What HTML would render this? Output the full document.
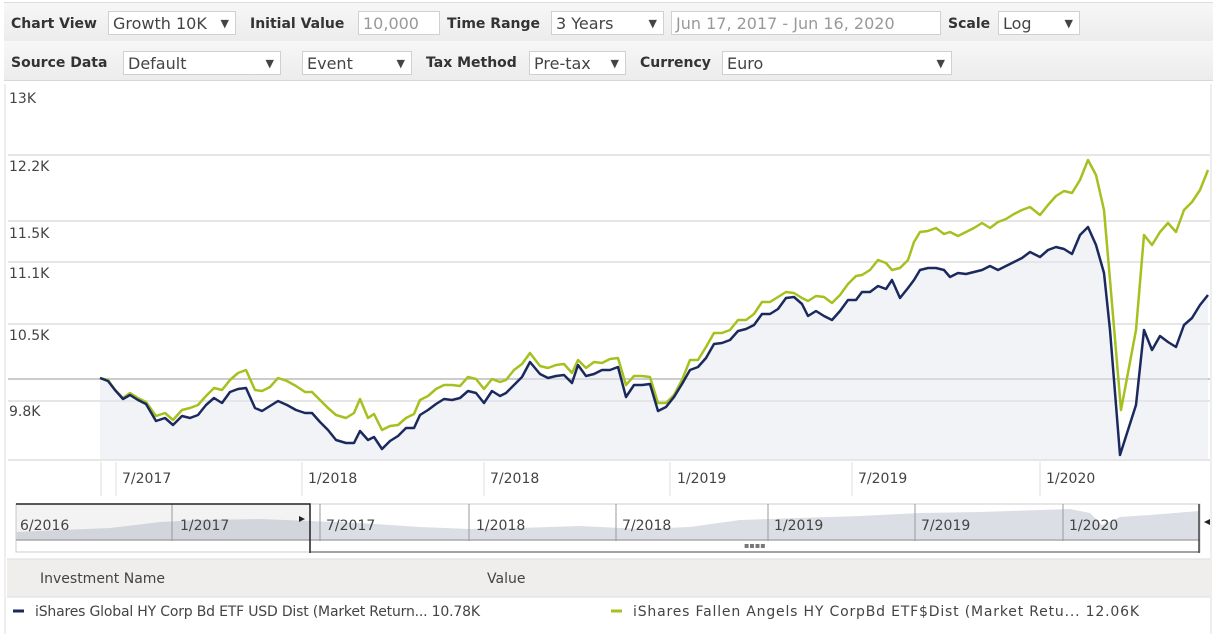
<!DOCTYPE html>
<html><head><meta charset="utf-8"><style>
body{margin:0;width:1213px;height:634px;overflow:hidden;background:#fff;font-family:"DejaVu Sans","Liberation Sans",sans-serif;color:#333;position:relative}
.bar{position:absolute;left:4px;width:1209px;background:linear-gradient(#f7f7f7,#ececec);border-bottom:1px solid #d8d8d8}
.l{position:absolute;font-weight:bold;font-size:14px;color:#333}
.b{position:absolute;height:24px;border:1px solid #d0d0d0;background:#fff;font-size:16px;line-height:24px;padding-left:4px;box-sizing:border-box;color:#444}
.a{position:absolute;right:6px;top:0;font-size:11px}
.g{color:#999}
</style></head><body>
<div class="bar" style="top:2px;height:38px;border-top:1px solid #ddd"></div>
<div class="bar" style="top:41px;height:39px"></div>
<div class="l" style="left:11px;top:16px">Chart View</div>
<div class="b" style="left:108px;top:11px;width:128px">Growth 10K<span class="a">▼</span></div>
<div class="l" style="left:250px;top:16px">Initial Value</div>
<div class="b g" style="left:358px;top:11px;width:82px">10,000</div>
<div class="l" style="left:447px;top:16px">Time Range</div>
<div class="b" style="left:551px;top:11px;width:113px">3 Years<span class="a">▼</span></div>
<div class="b g" style="left:671px;top:11px;width:270px">Jun 17, 2017 - Jun 16, 2020</div>
<div class="l" style="left:948px;top:16px">Scale</div>
<div class="b" style="left:998px;top:11px;width:82px">Log<span class="a">▼</span></div>
<div class="l" style="left:11px;top:55px">Source Data</div>
<div class="b" style="left:123px;top:51px;width:158px">Default<span class="a">▼</span></div>
<div class="b" style="left:302px;top:51px;width:110px">Event<span class="a">▼</span></div>
<div class="l" style="left:426px;top:55px">Tax Method</div>
<div class="b" style="left:529px;top:51px;width:97px">Pre-tax<span class="a">▼</span></div>
<div class="l" style="left:640px;top:55px">Currency</div>
<div class="b" style="left:722px;top:51px;width:230px">Euro<span class="a">▼</span></div>

<svg style="position:absolute;left:0;top:0" width="1213" height="634" font-family="DejaVu Sans, Liberation Sans, sans-serif" font-size="14" fill="#444">
<line x1="5" y1="84" x2="5" y2="634" stroke="#ddd"/>
<line x1="1211" y1="84" x2="1211" y2="634" stroke="#ddd"/>
<g stroke="#ddd" stroke-width="1.5">
<line x1="8" y1="155" x2="1210" y2="155"/><line x1="8" y1="221" x2="1210" y2="221"/>
<line x1="8" y1="262" x2="1210" y2="262"/><line x1="8" y1="324" x2="1210" y2="324"/>
<line x1="8" y1="401" x2="1210" y2="401"/><line x1="8" y1="460" x2="1210" y2="460"/>
</g>
<line x1="8" y1="379" x2="1210" y2="379" stroke="#bbb" stroke-width="1.5"/>
<g>
<text x="9" y="103">13K</text><text x="9" y="171">12.2K</text><text x="9" y="238">11.5K</text>
<text x="9" y="278">11.1K</text><text x="9" y="340">10.5K</text><text x="9" y="416">9.8K</text>
</g>
<polygon fill="#e6e8f0" opacity="0.5" points="100,460 100,378 108,381 115,390 123,399 130,395 138,400 146,404 156,421 165,418 173,425 182,416 190,418 198,415 206,405 214,398 222,403 230,392 238,389 246,388 255,408 262,411 270,406 278,401 287,405 296,410 305,413 312,413 320,422 328,430 336,440 346,443 354,443 360,431 368,440 374,437 382,449 390,441 398,436 406,428 414,428 420,415 428,410 436,404 444,399 452,400 460,398 468,391 476,393 484,403 492,391 500,396 506,393 514,385 522,377 530,362 540,374 548,378 556,376 564,375 572,383 578,365 586,376 594,374 602,370 610,370 618,367 626,397 634,385 642,385 650,384 658,411 666,407 674,397 682,384 690,370 698,367 706,358 714,344 722,343 730,340 738,331 746,329 754,325 762,314 770,314 778,309 786,298 794,297 802,304 808,316 816,311 824,316 832,320 840,311 848,300 856,300 862,292 870,292 878,286 886,289 892,280 900,298 908,288 914,280 920,270 928,268 936,268 944,270 950,277 958,273 966,274 974,272 982,270 990,266 998,270 1006,266 1014,262 1022,258 1030,252 1040,257 1048,250 1056,247 1064,249 1072,254 1080,235 1088,227 1096,245 1104,273 1110,330 1120,455 1136,405 1144,330 1152,350 1160,336 1168,342 1176,347 1184,325 1192,318 1200,305 1208,295 1208,460"/>
<polyline fill="none" stroke="#a4c11f" stroke-width="2.5" stroke-linejoin="round" points="100,378 108,380 115,390 123,398 130,393 138,398 146,402 156,416 165,413 173,420 182,410 190,408 198,405 206,396 214,388 222,390 230,380 238,373 246,370 255,390 262,391 270,387 278,378 287,381 296,386 305,392 312,392 320,400 328,408 336,415 346,418 354,413 360,399 368,418 374,414 382,430 390,426 398,425 406,418 414,414 420,400 428,396 436,389 444,385 452,385 460,386 468,377 476,379 484,389 492,379 500,382 506,380 514,370 522,364 530,353 540,366 548,368 556,365 564,364 572,373 578,360 586,368 594,362 602,363 610,359 618,358 626,385 634,376 642,376 650,377 658,403 666,403 674,395 682,380 690,360 698,360 706,347 714,333 722,333 730,330 738,320 746,320 754,314 762,302 770,302 778,297 786,292 794,293 802,298 808,301 816,296 824,297 832,303 840,295 848,284 856,276 862,275 870,270 878,260 886,263 892,270 900,268 908,260 914,242 920,232 928,231 936,228 944,234 950,232 958,236 966,232 974,228 982,223 990,228 998,222 1006,219 1014,214 1022,210 1030,207 1040,215 1048,205 1056,196 1064,191 1072,193 1080,180 1088,160 1096,175 1104,210 1110,280 1121,410 1136,330 1144,235 1152,245 1160,232 1168,223 1176,232 1184,210 1192,202 1200,190 1208,170"/>
<polyline fill="none" stroke="#1b2a5e" stroke-width="2.5" stroke-linejoin="round" points="100,378 108,381 115,390 123,399 130,395 138,400 146,404 156,421 165,418 173,425 182,416 190,418 198,415 206,405 214,398 222,403 230,392 238,389 246,388 255,408 262,411 270,406 278,401 287,405 296,410 305,413 312,413 320,422 328,430 336,440 346,443 354,443 360,431 368,440 374,437 382,449 390,441 398,436 406,428 414,428 420,415 428,410 436,404 444,399 452,400 460,398 468,391 476,393 484,403 492,391 500,396 506,393 514,385 522,377 530,362 540,374 548,378 556,376 564,375 572,383 578,365 586,376 594,374 602,370 610,370 618,367 626,397 634,385 642,385 650,384 658,411 666,407 674,397 682,384 690,370 698,367 706,358 714,344 722,343 730,340 738,331 746,329 754,325 762,314 770,314 778,309 786,298 794,297 802,304 808,316 816,311 824,316 832,320 840,311 848,300 856,300 862,292 870,292 878,286 886,289 892,280 900,298 908,288 914,280 920,270 928,268 936,268 944,270 950,277 958,273 966,274 974,272 982,270 990,266 998,270 1006,266 1014,262 1022,258 1030,252 1040,257 1048,250 1056,247 1064,249 1072,254 1080,235 1088,227 1096,245 1104,273 1110,330 1120,455 1136,405 1144,330 1152,350 1160,336 1168,342 1176,347 1184,325 1192,318 1200,305 1208,295"/>
<g stroke="#ddd"><line x1="101" y1="462" x2="101" y2="496"/><line x1="116" y1="462" x2="116" y2="496"/><line x1="302" y1="462" x2="302" y2="496"/><line x1="484" y1="462" x2="484" y2="496"/><line x1="670" y1="462" x2="670" y2="496"/><line x1="852" y1="462" x2="852" y2="496"/><line x1="1040" y1="462" x2="1040" y2="496"/></g>
<g><text x="122" y="483">7/2017</text><text x="308" y="483">1/2018</text><text x="490" y="483">7/2018</text><text x="677" y="483">1/2019</text><text x="858" y="483">7/2019</text><text x="1046" y="483">1/2020</text></g>
<rect x="16" y="504" width="1184" height="48" fill="#fff" stroke="#ccc"/>
<path fill="#dcdee6" d="M16,532 L60,530 L110,528 L160,522 L200,520 L260,519 L310,521 L360,523 L420,527 L470,529 L520,528 L580,526 L640,529 L690,527 L740,520 L800,518 L860,516 L920,513 L980,512 L1040,510 L1070,509 L1090,513 L1102,525 L1120,517 L1150,515 L1199,511 L1199,540 L16,540 Z"/>
<line x1="16" y1="540" x2="1200" y2="540" stroke="#aaa" stroke-width="1.5"/>
<rect x="16" y="504" width="294" height="36" fill="#888" opacity="0.1"/>
<g stroke="#999"><line x1="172" y1="504" x2="172" y2="541"/><line x1="320" y1="504" x2="320" y2="541"/><line x1="469" y1="504" x2="469" y2="541"/><line x1="616" y1="504" x2="616" y2="541"/><line x1="768" y1="504" x2="768" y2="541"/><line x1="915" y1="504" x2="915" y2="541"/><line x1="1063" y1="504" x2="1063" y2="541"/></g>
<path d="M16,504 L310,504 L310,553" fill="none" stroke="#222" stroke-width="1.5"/>
<line x1="1199" y1="504" x2="1199" y2="553" stroke="#444" stroke-width="1.5"/>
<line x1="310" y1="552" x2="1199" y2="552" stroke="#444"/>
<polygon points="299,516 305,519 299,522" fill="#222"/>
<polygon points="1210,519 1204,522 1210,525" fill="#222"/>
<text x="744" y="548" font-size="8" fill="#777">▪▪▪▪</text>
<g font-size="14"><text x="20" y="530">6/2016</text><text x="180" y="530">1/2017</text><text x="326" y="530">7/2017</text><text x="476" y="530">1/2018</text><text x="622" y="530">7/2018</text><text x="774" y="530">1/2019</text><text x="921" y="530">7/2019</text><text x="1069" y="530">1/2020</text></g>
<rect x="7" y="559" width="1203" height="38" fill="#efeeec"/>
<line x1="7" y1="559" x2="1210" y2="559" stroke="#ddd"/>
<line x1="7" y1="597" x2="1210" y2="597" stroke="#ddd"/>
<text x="40" y="583" font-size="14">Investment Name</text><text x="487" y="583" font-size="14">Value</text>
<line x1="13" y1="611" x2="24" y2="611" stroke="#1b2a5e" stroke-width="3"/>
<text x="35" y="616" font-size="14" textLength="445">iShares Global HY Corp Bd ETF USD Dist (Market Return... 10.78K</text>
<line x1="611" y1="611" x2="622" y2="611" stroke="#a4c11f" stroke-width="3"/>
<text x="633" y="616" font-size="14" textLength="506">iShares Fallen Angels HY CorpBd ETF$Dist (Market Retu...  12.06K</text>
</svg>
</body></html>
